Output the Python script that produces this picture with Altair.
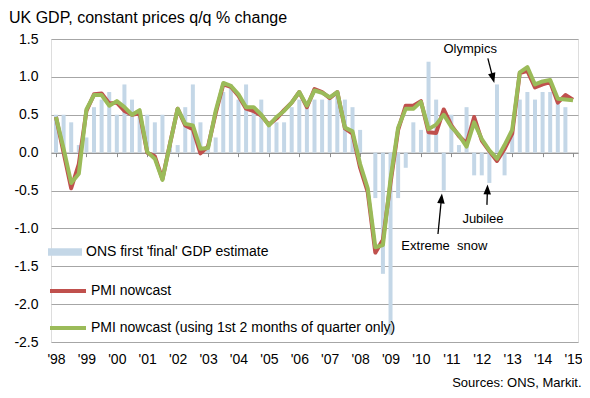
import json
import math
import altair as alt
import pandas as pd

# ---------------- data ----------------
years = list(range(1998, 2015))
quarter_pos = [y + (q - 1) / 4 for y in years for q in range(1, 5)]      # 68 quarters 1998Q1..2014Q4
line_pos = quarter_pos + [2015.0]                                        # + 2015Q1

ons_first_final = [
    0.5, 0.5, 0.4, 0.1,     # 1998
    0.2, 0.6, 0.7, 0.8,     # 1999
    0.5, 0.9, 0.7, 0.5,     # 2000
    0.5, 0.4, 0.5, 0.1,     # 2001
    0.1, 0.6, 0.9, 0.4,     # 2002
    0.1, 0.2, 0.8, 0.9,     # 2003
    0.7, 0.9, 0.6, 0.7,     # 2004
    0.4, 0.4, 0.4, 0.6,     # 2005
    0.7, 0.6, 0.7, 0.7,     # 2006
    0.7, 0.8, 0.7, 0.6,     # 2007
    0.3, 0.0, -0.6, -1.6,   # 2008
    -2.4, -0.6, -0.2, 0.4,  # 2009
    0.3, 1.2, 0.7, -0.5,    # 2010
    0.5, 0.1, 0.6, -0.3,    # 2011
    -0.3, -0.4, 0.9, -0.3,  # 2012
    0.3, 0.7, 0.8, 0.7,     # 2013
    0.8, 0.8, 0.7, 0.6,     # 2014
]

pmi_nowcast = [
    0.47, 0.0, -0.47, -0.15,
    0.55, 0.77, 0.78, 0.65,
    0.66, 0.55, 0.5, 0.52,
    0.0, -0.05, -0.35, 0.12,
    0.58, 0.36, 0.31, -0.01,
    0.08, 0.52, 0.9, 0.87,
    0.75, 0.58, 0.55, 0.49,
    0.37, 0.45, 0.56, 0.66,
    0.8, 0.6, 0.84, 0.8,
    0.72, 0.8, 0.32, 0.25,
    -0.2, -0.52, -1.32, -1.15,
    -0.4, 0.3, 0.62, 0.62,
    0.68, 0.27, 0.26, 0.57,
    0.36, 0.22, 0.12, 0.47,
    0.16, 0.02, -0.11, 0.05,
    0.25, 1.05, 1.08, 0.86,
    0.9, 0.93, 0.66, 0.76,
    0.7,
]

pmi_nowcast_2m = [
    0.47, 0.05, -0.4, -0.28,
    0.57, 0.76, 0.76, 0.62,
    0.68, 0.6, 0.5, 0.56,
    0.01, -0.08, -0.36, 0.12,
    0.58, 0.38, 0.36, 0.05,
    0.06, 0.55, 0.92, 0.88,
    0.77, 0.6, 0.6, 0.5,
    0.36, 0.47, 0.55, 0.66,
    0.8, 0.62, 0.82, 0.79,
    0.73, 0.8, 0.33, 0.28,
    -0.15, -0.47, -1.25, -1.22,
    -0.35, 0.33, 0.58, 0.58,
    0.67, 0.31, 0.37, 0.5,
    0.34, 0.23, 0.08, 0.4,
    0.18, 0.03, -0.08, 0.1,
    0.3, 1.06, 1.13, 0.9,
    0.94, 0.96, 0.71, 0.7,
    0.69,
]

series_names = [
    "ONS first 'final' GDP estimate",
    "PMI nowcast",
    "PMI nowcast (using 1st 2 months of quarter only)",
]
series_colors = ["#c4d7e7", "#c0504d", "#9bbb59"]

x_ticks = list(range(1998, 2016))
x_labels = ["'98", "'99", "'00", "'01", "'02", "'03", "'04", "'05", "'06",
            "'07", "'08", "'09", "'10", "'11", "'12", "'13", "'14", "'15"]
y_ticks = [-2.5, -2.0, -1.5, -1.0, -0.5, 0.0, 0.5, 1.0, 1.5]
y_labels = ["-2.5", "-2.0", "-1.5", "-1.0", "-0.5", "0.0", "0.5", "1.0", "1.5"]

title_text = "UK GDP, constant prices q/q % change"
source_text = "Sources: ONS, Markit."

# annotations (data units)
ann_text = ["Olympics", "Jubilee", "Extreme\u00a0 snow"]
ann_text_x = [2011.62, 2012.04, 2010.77]
ann_text_y = [1.32, -0.93, -1.29]
arrow_base_x = [2012.20, 2012.17, 2010.56]
arrow_base_y = [1.245, -0.69, -1.075]
arrow_tip_x = [2012.41, 2012.19, 2010.69]
arrow_tip_y = [0.92, -0.42, -0.54]

# ---------------- layout ----------------
W, H = 527, 303
FONT = "Liberation Sans"
x_dom = [1998, 2015]
y_dom = [-2.5, 1.5]
px_x = W / (x_dom[1] - x_dom[0])
px_y = H / (y_dom[1] - y_dom[0])

df_bars = pd.DataFrame({"t": quarter_pos, "v": ons_first_final, "series": series_names[0]})
df_lines = pd.concat([
    pd.DataFrame({"t": line_pos, "v": pmi_nowcast, "series": series_names[1]}),
    pd.DataFrame({"t": line_pos, "v": pmi_nowcast_2m, "series": series_names[2]}),
])
df_text = pd.DataFrame({"t": ann_text_x, "v": ann_text_y, "label": ann_text})
df_title = pd.DataFrame({"label": [title_text]})

# arrow heads: centre 5px back from the tip, rotated along the arrow
head_len = 5
rows = []
for bx, by, tx, ty in zip(arrow_base_x, arrow_base_y, arrow_tip_x, arrow_tip_y):
    dxp = (tx - bx) * px_x
    dyp = -(ty - by) * px_y
    L = math.hypot(dxp, dyp)
    ux, uy = dxp / L, dyp / L
    cx = tx - ux * head_len / px_x
    cy = ty + uy * head_len / px_y
    ang = math.degrees(math.atan2(ux, -uy)) % 360
    rows.append({"t": bx, "v": by, "t2": cx, "v2": cy, "ang": ang})
df_arrows = pd.DataFrame(rows)

xscale = alt.Scale(domain=x_dom, nice=False, zero=False)
yscale = alt.Scale(domain=y_dom, nice=False, zero=False)

yaxis = alt.Axis(
    values=y_ticks,
    labelExpr=json.dumps(y_labels) + "[round((datum.value + 2.5) * 2)]",
    grid=True, gridColor="#a6a6a6", gridWidth=1,
    domain=False, ticks=False, tickSize=0, labelPadding=13,
    labelFont=FONT, labelFontSize=14, labelColor="#000000", title=None,
)

label_axis = alt.Axis(
    values=x_ticks,
    labelExpr=json.dumps(x_labels) + "[round(datum.value) - 1998]",
    grid=False, domain=False, ticks=False, tickSize=0, labelPadding=10,
    labelFlush=False, labelOverlap=False, labelBound=False,
    labelFont=FONT, labelFontSize=14, labelColor="#000000",
    title=source_text, titleFont=FONT, titleFontSize=13, titleFontWeight="normal",
    titleColor="#000000", titleAlign="right", titleAnchor="end",
    titleX=W + 3, titleY=44, titleBaseline="alphabetic",
)

zero_axis = alt.Axis(
    values=x_ticks, orient="bottom", offset=-(H * 2.5 / 4),
    labels=False, grid=False, domain=True, domainColor="#8c8c8c", domainWidth=1,
    ticks=True, tickSize=4, tickColor="#8c8c8c", title=None,
)

bars = alt.Chart(df_bars).mark_bar(size=4).encode(
    x=alt.X("t:Q", scale=xscale, axis=label_axis),
    y=alt.Y("v:Q", scale=yscale, axis=yaxis),
    fill=alt.Fill(
        "series:N",
        scale=alt.Scale(domain=[series_names[0]], range=[series_colors[0]]),
        legend=alt.Legend(
            orient="none", legendX=-3, legendY=196, title=None, padding=0,
            symbolType="M-1,-0.22H1V0.22H-1Z", symbolSize=34 * 34,
            symbolStrokeWidth=0, labelFont=FONT, labelFontSize=14,
            labelColor="#000000", labelLimit=500, labelOffset=4,
        ),
    ),
)

lines = alt.Chart(df_lines).mark_line(strokeWidth=4, strokeJoin="round").encode(
    x=alt.X("t:Q", scale=xscale, axis=zero_axis),
    y=alt.Y("v:Q", scale=yscale, axis=yaxis),
    stroke=alt.Stroke(
        "series:N",
        scale=alt.Scale(domain=series_names[1:], range=series_colors[1:]),
        legend=alt.Legend(
            orient="none", legendX=-3, legendY=232, title=None, padding=0,
            symbolType="stroke", symbolSize=36 * 36, symbolStrokeWidth=4,
            rowPadding=9, labelFont=FONT, labelFontSize=14,
            labelColor="#000000", labelLimit=500, labelOffset=3,
        ),
    ),
    order=alt.Order("t:Q"),
)

texts = alt.Chart(df_text).mark_text(
    font=FONT, fontSize=13, color="#000000", align="center", baseline="alphabetic"
).encode(
    x=alt.X("t:Q", scale=xscale, axis=None),
    y=alt.Y("v:Q", scale=yscale, axis=yaxis),
    text="label:N",
)

shafts = alt.Chart(df_arrows).mark_rule(color="#000000", strokeWidth=1.3).encode(
    x=alt.X("t:Q", scale=xscale, axis=None),
    y=alt.Y("v:Q", scale=yscale, axis=yaxis),
    x2="t2:Q",
    y2="v2:Q",
)

heads = alt.Chart(df_arrows).mark_point(
    shape="M0,-1L0.75,1L-0.75,1Z", filled=True, color="#000000", opacity=1, size=100
).encode(
    x=alt.X("t2:Q", scale=xscale, axis=None),
    y=alt.Y("v2:Q", scale=yscale, axis=yaxis),
    angle=alt.Angle("ang:Q", scale=None),
)

# chart title, drawn as text above the plot's top-left corner
title = alt.Chart(df_title).mark_text(
    font=FONT, fontSize=16, color="#000000", align="left", baseline="alphabetic"
).encode(
    x=alt.value(-42),
    y=alt.value(-16),
    text="label:N",
)

chart = alt.layer(bars, lines, texts, shafts, heads, title).resolve_axis(
    x="independent"
).properties(
    width=W, height=H,
    autosize=alt.AutoSizeParams(type="none"),
    padding={"left": 43, "top": 31, "right": 4, "bottom": 48},
).configure_view(stroke=None).configure(background="white")

chart.save("out.html", embed_options={"renderer": "svg", "actions": False})
